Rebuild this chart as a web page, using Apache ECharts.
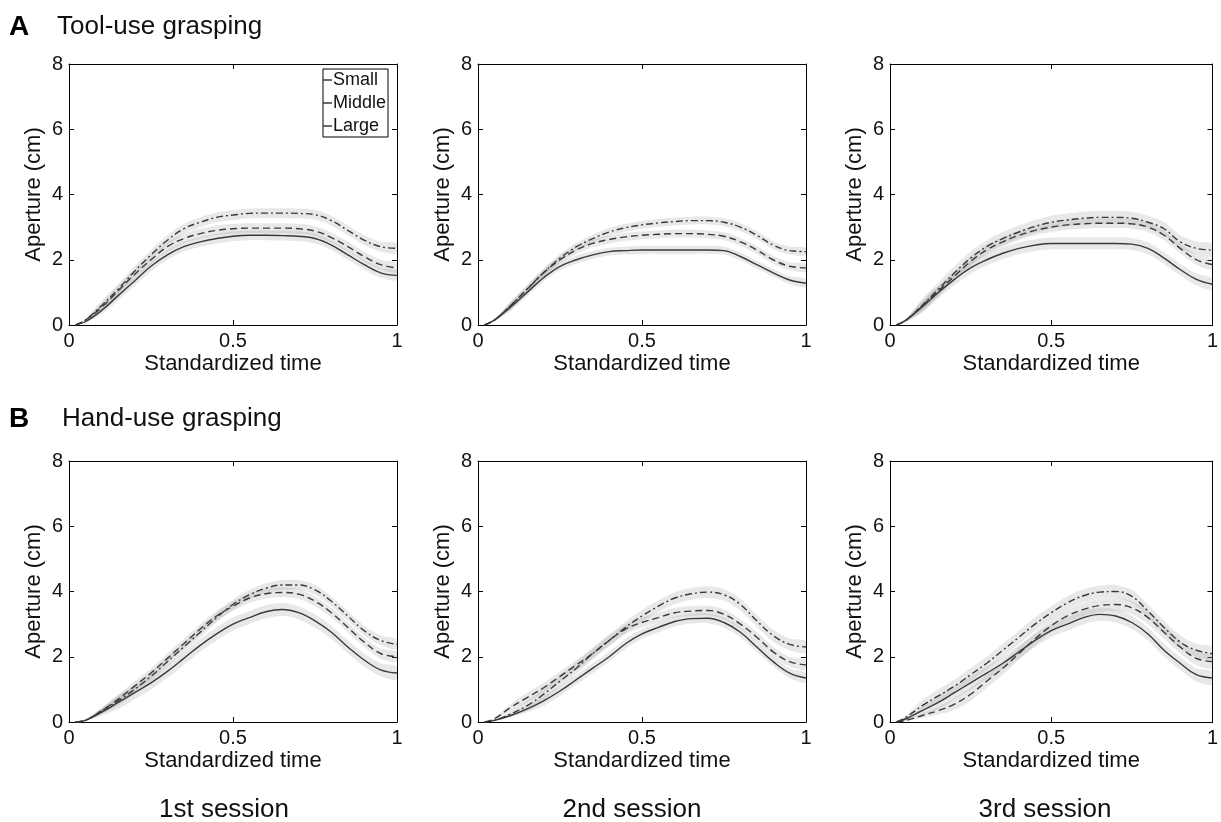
<!DOCTYPE html>
<html>
<head>
<meta charset="utf-8">
<title>Aperture</title>
<script src="https://cdn.jsdelivr.net/npm/echarts@6/dist/echarts.min.js"></script>
<style>
  html, body { margin: 0; padding: 0; background: #fff; }
  #main { width: 1221px; height: 822px; }
</style>
</head>
<body>
<div id="main"></div>
<script>
// standardized time samples
const times = [0.02, 0.05, 0.1, 0.15, 0.2, 0.25, 0.3, 0.35, 0.4, 0.45, 0.5, 0.55, 0.6, 0.65, 0.7, 0.75, 0.8, 0.85, 0.9, 0.95, 1];

// A: tool-use grasping, sessions 1-3
const tool1Small  = [0, 0.1, 0.45, 0.9, 1.35, 1.8, 2.15, 2.4, 2.55, 2.65, 2.72, 2.75, 2.75, 2.74, 2.72, 2.65, 2.45, 2.15, 1.85, 1.6, 1.52];
const tool1Middle = [0, 0.15, 0.55, 1.05, 1.55, 2.0, 2.4, 2.65, 2.8, 2.9, 2.95, 2.97, 2.97, 2.97, 2.95, 2.88, 2.68, 2.4, 2.1, 1.85, 1.75];
const tool1Large  = [0, 0.15, 0.6, 1.1, 1.65, 2.15, 2.6, 2.95, 3.15, 3.3, 3.37, 3.42, 3.43, 3.43, 3.42, 3.38, 3.2, 2.9, 2.6, 2.4, 2.35];
const tool2Small  = [0, 0.15, 0.55, 1.0, 1.45, 1.8, 2.0, 2.15, 2.25, 2.28, 2.3, 2.3, 2.3, 2.3, 2.3, 2.28, 2.1, 1.85, 1.6, 1.38, 1.28];
const tool2Middle = [0, 0.15, 0.6, 1.1, 1.6, 2.0, 2.3, 2.5, 2.62, 2.7, 2.75, 2.78, 2.8, 2.8, 2.78, 2.72, 2.55, 2.3, 2.0, 1.8, 1.75];
const tool2Large  = [0, 0.15, 0.6, 1.1, 1.6, 2.05, 2.4, 2.65, 2.85, 2.98, 3.07, 3.13, 3.17, 3.2, 3.2, 3.15, 3.0, 2.75, 2.45, 2.28, 2.25];
const tool3Small  = [0, 0.15, 0.55, 1.0, 1.4, 1.75, 2.0, 2.2, 2.35, 2.45, 2.5, 2.5, 2.5, 2.5, 2.5, 2.48, 2.35, 2.05, 1.7, 1.4, 1.25];
const tool3Middle = [0, 0.15, 0.6, 1.05, 1.5, 1.95, 2.3, 2.55, 2.75, 2.9, 3.0, 3.07, 3.1, 3.12, 3.12, 3.1, 3.0, 2.75, 2.35, 2.0, 1.85];
const tool3Large  = [0, 0.15, 0.6, 1.1, 1.6, 2.05, 2.4, 2.65, 2.85, 3.02, 3.15, 3.22, 3.27, 3.3, 3.3, 3.27, 3.15, 2.95, 2.55, 2.35, 2.3];

// B: hand-use grasping, sessions 1-3
const hand1Small  = [0, 0.05, 0.3, 0.6, 0.9, 1.2, 1.55, 1.95, 2.35, 2.7, 3.0, 3.2, 3.38, 3.45, 3.35, 3.1, 2.75, 2.3, 1.9, 1.6, 1.5];
const hand1Middle = [0, 0.05, 0.35, 0.7, 1.1, 1.5, 1.95, 2.4, 2.85, 3.25, 3.55, 3.8, 3.93, 3.97, 3.92, 3.7, 3.35, 2.9, 2.45, 2.1, 2.0];
const hand1Large  = [0, 0.05, 0.35, 0.65, 1.0, 1.4, 1.85, 2.3, 2.75, 3.2, 3.6, 3.9, 4.1, 4.2, 4.2, 4.05, 3.7, 3.25, 2.8, 2.5, 2.38];
const hand2Small  = [0, 0.05, 0.2, 0.4, 0.65, 0.95, 1.3, 1.65, 2.0, 2.4, 2.7, 2.9, 3.08, 3.17, 3.18, 3.05, 2.75, 2.3, 1.85, 1.5, 1.35];
const hand2Middle = [0, 0.1, 0.45, 0.75, 1.05, 1.4, 1.75, 2.1, 2.5, 2.85, 3.05, 3.2, 3.35, 3.4, 3.42, 3.3, 3.0, 2.6, 2.15, 1.85, 1.75];
const hand2Large  = [0, 0.05, 0.25, 0.5, 0.85, 1.25, 1.65, 2.1, 2.5, 2.9, 3.25, 3.55, 3.8, 3.93, 3.98, 3.9, 3.6, 3.1, 2.65, 2.38, 2.3];
const hand3Small  = [0, 0.1, 0.35, 0.6, 0.9, 1.2, 1.5, 1.8, 2.15, 2.5, 2.8, 3.0, 3.2, 3.3, 3.25, 3.05, 2.7, 2.2, 1.8, 1.45, 1.35];
const hand3Middle = [0, 0.05, 0.2, 0.35, 0.55, 0.85, 1.25, 1.65, 2.1, 2.55, 2.95, 3.25, 3.45, 3.57, 3.6, 3.5, 3.2, 2.75, 2.3, 1.95, 1.85];
const hand3Large  = [0, 0.15, 0.5, 0.8, 1.1, 1.45, 1.8, 2.2, 2.6, 3.0, 3.35, 3.65, 3.87, 3.98, 4.0, 3.85, 3.4, 2.9, 2.45, 2.2, 2.1];

// half-width of the shaded band (small, middle, large) for each panel
const bandHalf = [
  [0.15, 0.15, 0.15], [0.12, 0.12, 0.12], [0.18, 0.15, 0.2],
  [0.2, 0.15, 0.15], [0.15, 0.15, 0.18], [0.2, 0.2, 0.2]
];

const panels = [
  [tool1Small, tool1Middle, tool1Large],
  [tool2Small, tool2Middle, tool2Large],
  [tool3Small, tool3Middle, tool3Large],
  [hand1Small, hand1Middle, hand1Large],
  [hand2Small, hand2Middle, hand2Large],
  [hand3Small, hand3Middle, hand3Large]
];
const seriesNames = ["Small", "Middle", "Large"];
const xTicks = [0, 0.5, 1];
const yTicks = [0, 2, 4, 6, 8];
const sessionLabels = ["1st session", "2nd session", "3rd session"];

const FONT = "Liberation Sans, Arial, sans-serif";
const lefts = [69, 478, 890];
const tops = [64, 461];
const W = 328, H = 261;
const lineColor = "#3a3a3a";
const dashes = ["solid", [7, 4], [7, 3, 2, 3]];

const grid = [], xAxis = [], yAxis = [], series = [];
panels.forEach((curves, p) => {
  grid.push({ left: lefts[p % 3], top: tops[Math.floor(p / 3)], width: W, height: H, containLabel: false });
  const common = { gridIndex: p, min: 0, max: 1, interval: 0.5, splitLine: { show: false },
    axisLine: { show: true, onZero: false, lineStyle: { color: "#000", width: 1 } },
    axisTick: { show: true, inside: true, length: 5, lineStyle: { color: "#000" } } };
  xAxis.push(Object.assign({}, common, {
    type: "value", position: "bottom",
    name: "Standardized time", nameLocation: "middle", nameGap: 28,
    nameTextStyle: { fontSize: 22, fontFamily: FONT, color: "#111" },
    axisLabel: { fontSize: 20, fontFamily: FONT, color: "#111", margin: 6,
      formatter: v => xTicks.includes(v) ? String(v) : "" }
  }));
  xAxis.push(Object.assign({}, common, { type: "value", position: "top", axisLabel: { show: false } }));
  const ycommon = { gridIndex: p, min: 0, max: 8, interval: 2, splitLine: { show: false },
    axisLine: { show: true, onZero: false, lineStyle: { color: "#000", width: 1 } },
    axisTick: { show: true, inside: true, length: 5, lineStyle: { color: "#000" } } };
  yAxis.push(Object.assign({}, ycommon, {
    type: "value", position: "left",
    name: "Aperture (cm)", nameLocation: "middle", nameGap: 24,
    nameTextStyle: { fontSize: 22, fontFamily: FONT, color: "#111" },
    axisLabel: { fontSize: 20, fontFamily: FONT, color: "#111", margin: 6,
      formatter: v => yTicks.includes(v) ? String(v) : "" }
  }));
  yAxis.push(Object.assign({}, ycommon, { type: "value", position: "right", axisLabel: { show: false } }));

  const xi = p * 2, yi = p * 2;
  curves.forEach((mean, k) => {
    const hw = bandHalf[p][k];
    // rows: [t, lower, upper]
    const rows = mean.map((m, i) => {
      const w = hw * Math.min(1, m / 0.6);
      return [times[i], Math.max(0, m - w), m + w];
    });
    series.push({
      name: "band" + p + k, type: "custom", xAxisIndex: xi, yAxisIndex: yi,
      data: rows, encode: { x: 0, y: [1, 2] }, silent: true, z: 1,
      renderItem: (params, api) => {
        if (params.dataIndex !== 0) return;
        const upper = rows.map(r => api.coord([r[0], r[2]]));
        const lower = rows.map(r => api.coord([r[0], r[1]])).reverse();
        const cs = params.coordSys;
        return {
          type: "group",
          children: [{
            type: "polyline",
            shape: { points: upper.concat(lower), smooth: 0.3 },
            style: { fill: "rgba(150,150,150,0.22)", stroke: null },
            clipPath: { type: "rect", shape: { x: cs.x, y: cs.y, width: cs.width, height: cs.height } }
          }]
        };
      }
    });
  });
  curves.forEach((mean, k) => {
    series.push({
      name: seriesNames[k], type: "line", xAxisIndex: xi, yAxisIndex: yi,
      data: mean.map((m, i) => [times[i], m]), smooth: 0.4, symbol: "none",
      lineStyle: { color: lineColor, width: 1.4, type: dashes[k] },
      itemStyle: { color: lineColor }, z: 3
    });
  });
});

const graphic = [
  { type: "text", left: 9, top: 13, style: { text: "A", font: "bold 28px " + FONT, fill: "#000" } },
  { type: "text", left: 57, top: 14, style: { text: "Tool-use grasping", font: "26px " + FONT, fill: "#111" } },
  { type: "text", left: 9, top: 405, style: { text: "B", font: "bold 28px " + FONT, fill: "#000" } },
  { type: "text", left: 62, top: 406, style: { text: "Hand-use grasping", font: "26px " + FONT, fill: "#111" } }
];
const sessionCenters = [224, 632, 1045];
sessionLabels.forEach((s, i) => {
  graphic.push({ type: "text", x: sessionCenters[i], y: 810,
    style: { text: s, font: "26px " + FONT, fill: "#111", textAlign: "center", textVerticalAlign: "middle" } });
});

const chart = echarts.init(document.getElementById("main"));
chart.setOption({
  animation: false,
  backgroundColor: "#fff",
  grid, xAxis, yAxis, series, graphic,
  legend: {
    data: seriesNames, orient: "vertical", left: 323, top: 69,
    icon: "rect", itemWidth: 9, itemHeight: 1.5, itemGap: 5,
    padding: [2, 2, 2, 0],
    borderColor: "#000", borderWidth: 1, backgroundColor: "#fff",
    textStyle: { fontSize: 18, fontFamily: FONT, color: "#111", padding: [0, 0, 0, -4] },
    selectedMode: false
  }
});
</script>
</body>
</html>
